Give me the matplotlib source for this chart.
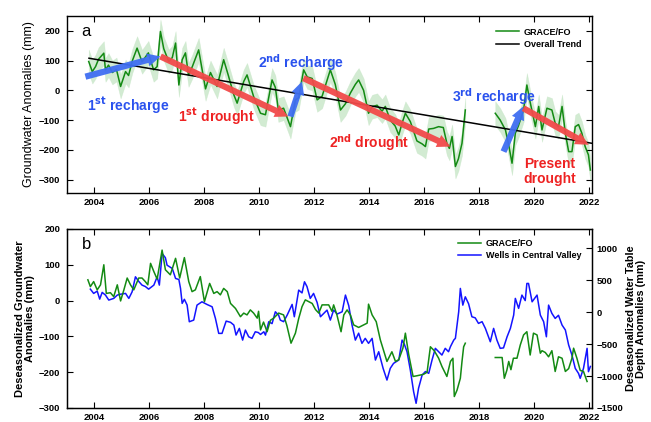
import numpy as np
import matplotlib
matplotlib.use("Agg")
import matplotlib.pyplot as plt
from matplotlib.patches import FancyArrowPatch

plt.rcParams['font.family'] = ['Liberation Sans', 'DejaVu Sans']

# ---- panel a: GRACE / GRACE-FO total groundwater anomalies (mm) ----
grace_years = [2003.79, 2003.92, 2004.04, 2004.15, 2004.34, 2004.40, 2004.51, 2004.65, 2004.80, 2004.95,
               2005.13, 2005.24, 2005.38, 2005.55, 2005.73, 2005.96, 2006.15, 2006.28, 2006.40, 2006.52,
               2006.70, 2006.83, 2006.95, 2007.07, 2007.19, 2007.31, 2007.42, 2007.56, 2007.79, 2008.04,
               2008.22, 2008.46, 2008.70, 2008.87, 2009.07, 2009.19, 2009.43, 2009.55, 2009.79, 2010.04,
               2010.22, 2010.46, 2010.58, 2010.69, 2010.88, 2011.13, 2011.31, 2011.43, 2011.61, 2011.74,
               2011.92, 2012.10, 2012.28, 2012.58, 2012.76, 2012.95, 2013.13, 2013.31, 2013.49, 2013.61,
               2013.79, 2013.97, 2014.10, 2014.28, 2014.46, 2014.58, 2014.76, 2014.94, 2015.07, 2015.19,
               2015.31, 2015.49, 2015.73, 2015.92, 2016.04, 2016.16, 2016.33, 2016.52, 2016.69, 2016.82,
               2016.91, 2017.01, 2017.13, 2017.24, 2017.37, 2017.49]
grace_vals = [97, 63, 80, 105, 125, 69, 85, 60, 70, 13,
              63, 50, 100, 142, 96, 126, 69, 80, 198, 140,
              97, 110, 159, 18, 103, 126, 52, 80, 136, 5,
              60, 13, 103, 50, -15, -43, 30, 52, -21, -77,
              -82, 35, 10, -66, -60, -122, -32, -25, 69, 45,
              40, -32, -20, 69, 20, -66, -45, -9, 20, 35,
              0, -77, -55, -50, -70, -54, -100, -120, -150, -110,
              -77, -105, -170, -180, -189, -130, -128, -122, -125, -178,
              -195, -155, -256, -230, -178, -66]

gracefo_years = [2018.58, 2018.76, 2018.95, 2019.07, 2019.19, 2019.31, 2019.42, 2019.61, 2019.73, 2019.85,
                 2020.04, 2020.16, 2020.28, 2020.46, 2020.64, 2020.76, 2020.88, 2021.01, 2021.13, 2021.25,
                 2021.37, 2021.49, 2021.61, 2021.73, 2021.85, 2021.97, 2022.04]
gracefo_vals = [-77, -100, -133, -184, -245, -144, -120, -66, 18, -40,
                -122, -54, -133, -60, -66, -110, -122, -54, -144, -206,
                -206, -122, -115, -144, -189, -217, -268]

# half-width of the uncertainty envelope (mm)
grace_unc = 40

# overall linear trend end points (year, mm)
trend_years = [2003.8, 2022.1]
trend_vals = [108, -178]

# recharge / drought phases: (start year, start mm, end year, end mm)
recharge_phases = [(2003.67, 46, 2006.40, 114),
                   (2011.13, -88, 2011.55, 30),
                   (2018.88, -206, 2019.60, -54)]
drought_phases = [(2006.40, 114, 2011.05, -88),
                  (2011.60, 41, 2016.95, -189),
                  (2019.60, -60, 2021.98, -183)]

# phase labels: (text, year, mm)
recharge_labels = [(r'1$^{\mathbf{st}}$ recharge', 2005.24, -52),
                   (r'2$^{\mathbf{nd}}$ recharge', 2011.53, 93),
                   (r'3$^{\mathbf{rd}}$ recharge', 2018.55, -22)]
drought_labels = [(r'1$^{\mathbf{st}}$ drought', 2008.44, -89),
                  (r'2$^{\mathbf{nd}}$ drought', 2014.0, -177),
                  ('Present\ndrought', 2020.55, -272)]

# ---- panel b: deseasonalized GRACE and well water-table depth ----
des_years = [2003.76, 2003.85, 2003.97, 2004.10, 2004.22, 2004.34, 2004.43, 2004.58, 2004.70, 2004.83,
             2004.95, 2005.07, 2005.19, 2005.31, 2005.43, 2005.61, 2005.73, 2005.85, 2005.94, 2006.04,
             2006.16, 2006.28, 2006.46, 2006.58, 2006.76, 2006.95, 2007.10, 2007.27, 2007.43, 2007.55,
             2007.67, 2007.85, 2008.00, 2008.19, 2008.34, 2008.46, 2008.58, 2008.70, 2008.83, 2008.95,
             2009.13, 2009.31, 2009.43, 2009.55, 2009.67, 2009.79, 2009.92, 2009.97, 2010.04, 2010.15,
             2010.28, 2010.40, 2010.52, 2010.70, 2010.88, 2011.00, 2011.15, 2011.31, 2011.43, 2011.55,
             2011.67, 2011.92, 2012.04, 2012.16, 2012.28, 2012.52, 2012.64, 2012.70, 2012.82, 2012.97,
             2013.07, 2013.19, 2013.31, 2013.43, 2013.61, 2013.92, 2013.97, 2014.10, 2014.25, 2014.40,
             2014.64, 2014.82, 2014.95, 2015.07, 2015.22, 2015.31, 2015.43, 2015.59, 2015.73, 2015.97,
             2016.10, 2016.22, 2016.36, 2016.52, 2016.64, 2016.82, 2016.95, 2017.04, 2017.09, 2017.19,
             2017.31, 2017.37, 2017.43, 2017.49]
des_vals = [58, 39, 53, 30, 44, 100, 20, 22, 11, 44,
            -1, 30, 63, 44, 30, 63, 63, 53, 44, 104,
            81, 60, 141, 86, 72, 118, 63, 120, 53, 25,
            30, 67, -3, 48, 20, 25, 16, 34, 25, -8,
            -22, -45, -35, -40, -26, -35, -49, -30, -82, -60,
            -87, -55, -49, -35, -40, -70, -119, -91, -50, -17,
            2, -8, -25, -35, -12, -12, -30, -12, -40, -87,
            -40, -26, -40, -68, -75, -63, -10, -40, -59, -110,
            -170, -143, -170, -165, -133, -91, -150, -212, -210, -206,
            -200, -129, -140, -161, -184, -212, -170, -161, -268, -250,
            -217, -170, -129, -119]

desfo_years = [2018.58, 2018.83, 2018.91, 2019.00, 2019.07, 2019.15, 2019.24, 2019.37, 2019.49, 2019.61,
               2019.73, 2019.85, 2019.97, 2020.10, 2020.22, 2020.28, 2020.40, 2020.52, 2020.64, 2020.76,
               2020.88, 2021.01, 2021.13, 2021.25, 2021.37, 2021.43, 2021.55, 2021.67, 2021.79, 2021.92]
desfo_vals = [-159, -159, -217, -195, -170, -193, -161, -161, -124, -96,
              -87, -152, -91, -96, -147, -140, -145, -157, -140, -198,
              -157, -161, -198, -190, -161, -133, -161, -195, -198, -226]

wells_years = [2003.85, 2003.97, 2004.10, 2004.19, 2004.28, 2004.40, 2004.52, 2004.70, 2004.83, 2004.95,
               2005.13, 2005.25, 2005.37, 2005.49, 2005.61, 2005.73, 2005.85, 2005.97, 2006.16, 2006.28,
               2006.36, 2006.46, 2006.58, 2006.64, 2006.83, 2006.95, 2007.07, 2007.13, 2007.19, 2007.27,
               2007.37, 2007.45, 2007.61, 2007.73, 2007.91, 2008.09, 2008.28, 2008.40, 2008.52, 2008.64,
               2008.79, 2008.95, 2009.07, 2009.15, 2009.27, 2009.39, 2009.49, 2009.61, 2009.73, 2009.85,
               2009.96, 2010.04, 2010.16, 2010.22, 2010.34, 2010.46, 2010.58, 2010.70, 2010.76, 2010.88,
               2011.01, 2011.19, 2011.27, 2011.43, 2011.55, 2011.64, 2011.73, 2011.85, 2011.97, 2012.10,
               2012.22, 2012.34, 2012.46, 2012.58, 2012.70, 2012.83, 2013.01, 2013.13, 2013.25, 2013.37,
               2013.49, 2013.61, 2013.73, 2013.85, 2013.97, 2014.10, 2014.22, 2014.34, 2014.50, 2014.64,
               2014.76, 2014.88, 2015.07, 2015.19, 2015.27, 2015.37, 2015.49, 2015.61, 2015.70, 2015.79,
               2015.92, 2016.04, 2016.16, 2016.28, 2016.40, 2016.52, 2016.64, 2016.76, 2016.88, 2016.95,
               2017.07, 2017.13, 2017.19, 2017.25, 2017.31, 2017.40, 2017.49, 2017.61, 2017.73, 2017.85,
               2017.97, 2018.10, 2018.22, 2018.40, 2018.52, 2018.64, 2018.76, 2018.88, 2019.01, 2019.13,
               2019.25, 2019.31, 2019.43, 2019.55, 2019.67, 2019.73, 2019.79, 2019.92, 2020.10, 2020.22,
               2020.34, 2020.44, 2020.52, 2020.64, 2020.76, 2020.88, 2021.01, 2021.13, 2021.25, 2021.37,
               2021.49, 2021.61, 2021.67, 2021.79, 2021.92, 2021.97, 2022.04]
wells_vals = [359, 292, 328, 203, 308, 266, 188, 214, 266, 280,
              292, 214, 318, 552, 480, 422, 400, 359, 422, 552,
              422, 917, 850, 734, 682, 526, 510, 370, 136, 200,
              110, -151, -125, 109, 161, 120, 83, -99, -333, -333,
              -141, -160, -203, -359, -255, -438, -281, -386, -411, -308,
              -320, -350, -308, -360, -151, -180, 5, -50, -125, -150,
              -47, 120, -73, 344, 300, 474, 400, 214, 292, 150,
              -73, -20, 31, -125, 31, -30, 5, 266, 100, -203,
              -438, -330, -489, -411, -489, -411, -750, -620, -880, -1063,
              -880, -802, -750, -438, -500, -620, -906, -1245, -1427, -1190,
              -984, -930, -958, -750, -567, -620, -672, -567, -620, -540,
              -438, -410, -203, 5, 370, 109, 239, 130, -73, -90,
              -177, -150, -255, -464, -255, -438, -567, -560, -386, -255,
              -47, 214, 58, 266, 180, 448, 448, 161, 266, -47,
              -150, -386, 109, -20, -99, -50, -203, -280, -515, -672,
              -880, -960, -1036, -880, -567, -932, -850]

year_ticks = list(range(2004, 2023, 2))

GREEN = '#138a13'
BAND = '#a6d8a6'
BLUE_LINE = '#1414ff'
BLUE_ARROW = '#3f6ef2'
RED_ARROW = '#f24a4a'
BLUE_TEXT = '#2a52ee'
RED_TEXT = '#ee2222'
TICK_SIZE = 6.8


def style_axis(ax):
    ax.set_xlim(2003.0, 2022.1)
    ax.set_xticks(year_ticks)
    ax.tick_params(direction='in', length=4, width=0.8, top=True, labelsize=TICK_SIZE)
    ax.tick_params(axis='x', pad=3.5)
    ax.tick_params(axis='y', pad=5)
    for lab in ax.get_xticklabels() + ax.get_yticklabels():
        lab.set_fontweight('bold')
    for s in ax.spines.values():
        s.set_linewidth(1.0)


fig = plt.figure(figsize=(6.51, 4.22), dpi=100)
ax_a = fig.add_axes([0.1029, 0.5427, 0.8065, 0.4194])
ax_b = fig.add_axes([0.1029, 0.0332, 0.8065, 0.4242])

# ---------------- panel a ----------------
gap = [np.nan]
t_all = np.array(grace_years + gap + gracefo_years)
v_all = np.array(grace_vals + gap + gracefo_vals, dtype=float)
for yrs, vals in ((grace_years, grace_vals), (gracefo_years, gracefo_vals)):
    yrs = np.array(yrs)
    vals = np.array(vals, dtype=float)
    ax_a.fill_between(yrs, vals - grace_unc, vals + grace_unc, color=BAND, alpha=0.5, lw=0.4,
                      edgecolor='#c2e4c2')
ax_a.plot(t_all, v_all, color=GREEN, lw=1.1, label='GRACE/FO')
ax_a.plot(trend_years, trend_vals, color='black', lw=1.1, label='Overall Trend')

arrow_style = 'simple,head_width=0.95,head_length=0.95,tail_width=0.45'
for phases, col in ((recharge_phases, BLUE_ARROW), (drought_phases, RED_ARROW)):
    for x0, y0, x1, y1 in phases:
        ax_a.add_patch(FancyArrowPatch((x0, y0), (x1, y1), arrowstyle=arrow_style,
                                       mutation_scale=10, color=col, lw=0, alpha=0.95,
                                       shrinkA=0, shrinkB=0, zorder=4))
for txt, x, y in recharge_labels:
    ax_a.text(x, y, txt, color=BLUE_TEXT, fontsize=10, fontweight='bold', ha='center', va='center')
for txt, x, y in drought_labels:
    ax_a.text(x, y, txt, color=RED_TEXT, fontsize=10, fontweight='bold', ha='center', va='center',
              linespacing=1.1)

ax_a.set_ylim(-345, 250)
ax_a.set_yticks([-300, -200, -100, 0, 100, 200])
ax_a.tick_params(right=True)
style_axis(ax_a)
ax_a.set_ylabel('Groundwater Anomalies (mm)', fontsize=9)
ax_a.yaxis.set_label_coords(-0.06, 0.5)
ax_a.text(0.028, 0.915, 'a', transform=ax_a.transAxes, fontsize=12, va='center', ha='left')
ax_a.legend(loc='upper right', bbox_to_anchor=(0.99, 0.965), frameon=False,
            prop=dict(size=6.5, weight='bold'), handlelength=2.6, handletextpad=0.5,
            labelspacing=0.35, borderaxespad=0.2)

# ---------------- panel b ----------------
ax_w = ax_b.twinx()
ln1, = ax_b.plot(np.array(des_years + gap + desfo_years),
                 np.array(des_vals + gap + desfo_vals, dtype=float),
                 color=GREEN, lw=1.1, label='GRACE/FO')
ln2, = ax_w.plot(wells_years, wells_vals, color=BLUE_LINE, lw=1.1, label='Wells in Central Valley')
ax_b.set_zorder(ax_w.get_zorder() + 1)
ax_b.patch.set_visible(False)

ax_b.set_ylim(-300, 200)
ax_b.set_yticks([-300, -200, -100, 0, 100, 200])
style_axis(ax_b)
ax_b.tick_params(right=False)
ax_w.set_ylim(-1500, 1300)
ax_w.set_yticks([-1500, -1000, -500, 0, 500, 1000])
ax_w.tick_params(direction='in', length=4, width=0.8, labelsize=TICK_SIZE, pad=3)
for lab in ax_w.get_yticklabels():
    lab.set_fontweight('bold')
ax_b.set_ylabel('Deseasonalized Groundwater\nAnomalies (mm)', fontsize=8, fontweight='bold',
                linespacing=1.1)
ax_b.yaxis.set_label_coords(-0.06, 0.5)
ax_w.set_ylabel('Deseasonalized Water Table\nDepth Anomalies (mm)', fontsize=7.8, fontweight='bold',
                linespacing=1.1)
ax_w.yaxis.set_label_coords(1.064, 0.5)
ax_b.text(0.028, 0.916, 'b', transform=ax_b.transAxes, fontsize=12, va='center', ha='left')
ax_b.legend(handles=[ln1, ln2], loc='upper right', bbox_to_anchor=(0.99, 0.975), frameon=False,
            prop=dict(size=6.5, weight='bold'), handlelength=2.6, handletextpad=0.5,
            labelspacing=0.35, borderaxespad=0.2)

fig.savefig('out.png', dpi=100)
